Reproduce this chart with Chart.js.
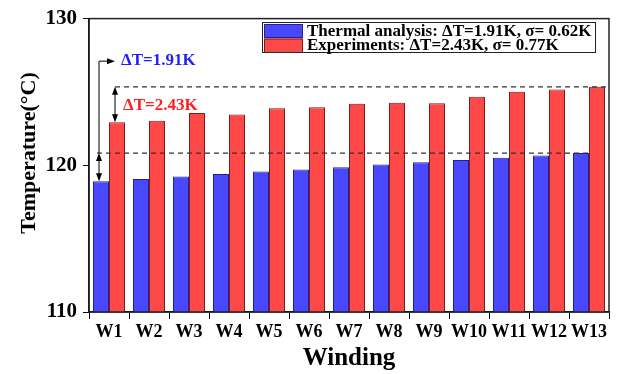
<!DOCTYPE html>
<html>
<head>
<meta charset="utf-8">
<script src="https://cdn.jsdelivr.net/npm/chart.js@4.4.0/dist/chart.umd.min.js"></script>
<style>
    html, body { margin: 0; padding: 0; background: #fff; }
</style>
</head>
<body>
<canvas id="graficoDevanados" width="633" height="374"></canvas>
<script>
// datos
const devanados = ['W1', 'W2', 'W3', 'W4', 'W5', 'W6', 'W7', 'W8', 'W9', 'W10', 'W11', 'W12', 'W13']
const analisisTermico = [118.92, 119.06, 119.24, 119.40, 119.58, 119.71, 119.87, 120.05, 120.20, 120.36, 120.52, 120.67, 120.83]
const experimentos = [122.93, 123.04, 123.56, 123.47, 123.89, 123.96, 124.20, 124.27, 124.23, 124.68, 125.01, 125.17, 125.35]
const ticksY = [110, 120, 130]
const etiquetas = ['Thermal analysis: \u0394T=1.91K, \u03c3= 0.62K', 'Experiments: \u0394T=2.43K, \u03c3= 0.77K']
const textosDelta = ['\u0394T=1.91K', '\u0394T=2.43K']
const tituloY = 'Temperature(\u00b0C)'

const fuente = "'Liberation Serif', 'Times New Roman', serif"

function flecha(ctx, x, y, dir) {
    // dir: 'up', 'down', 'right'
    ctx.beginPath()
    if (dir == 'up') { ctx.moveTo(x, y); ctx.lineTo(x - 3, y + 8); ctx.lineTo(x + 3, y + 8) }
    if (dir == 'down') { ctx.moveTo(x, y); ctx.lineTo(x - 3, y - 8); ctx.lineTo(x + 3, y - 8) }
    if (dir == 'right') { ctx.moveTo(x, y); ctx.lineTo(x - 8, y - 3); ctx.lineTo(x - 8, y + 3) }
    ctx.closePath()
    ctx.fill()
}

const anotaciones = {
    id: 'anotaciones',
    afterDatasetsDraw(chart) {
        const { ctx, chartArea: area, scales: { x, y } } = chart
        const maxT = Math.max(...analisisTermico)
        const maxE = Math.max(...experimentos)
        const x0 = x.getPixelForValue(0)
        const xAzul = x0 - 10
        const xRojo = x0 + 6
        const yMaxT = y.getPixelForValue(maxT)
        const yMaxE = y.getPixelForValue(maxE)
        const yT1 = y.getPixelForValue(analisisTermico[0])
        const yE1 = y.getPixelForValue(experimentos[0])

        ctx.save()
        // lineas discontinuas
        ctx.strokeStyle = '#333'
        ctx.lineWidth = 1.2
        ctx.setLineDash([5, 4])
        ctx.beginPath()
        ctx.moveTo(xRojo, yMaxE); ctx.lineTo(area.right, yMaxE)
        ctx.moveTo(xAzul - 2, yMaxT); ctx.lineTo(x.getPixelForValue(12), yMaxT)
        ctx.stroke()
        ctx.setLineDash([])

        // flechas dobles
        ctx.strokeStyle = '#000'
        ctx.fillStyle = '#000'
        ctx.lineWidth = 1
        ctx.beginPath()
        ctx.moveTo(xRojo, yMaxE + 2); ctx.lineTo(xRojo, yE1 - 2)
        ctx.moveTo(xAzul, yMaxT + 2); ctx.lineTo(xAzul, yT1 - 2)
        ctx.stroke()
        flecha(ctx, xRojo, yMaxE, 'up')
        flecha(ctx, xRojo, yE1, 'down')
        flecha(ctx, xAzul, yMaxT, 'up')
        flecha(ctx, xAzul, yT1, 'down')

        // codo hacia la etiqueta azul
        const yCodo = y.getPixelForValue(127.1)
        ctx.beginPath()
        ctx.moveTo(xAzul, yMaxT); ctx.lineTo(xAzul, yCodo); ctx.lineTo(xAzul + 10, yCodo)
        ctx.stroke()
        flecha(ctx, xAzul + 16, yCodo, 'right')

        ctx.font = `bold 17px ${fuente}`
        ctx.textAlign = 'left'
        ctx.textBaseline = 'middle'
        ctx.fillStyle = '#1f1fff'
        ctx.fillText(textosDelta[0], xAzul + 22, yCodo - 1)
        ctx.fillStyle = '#ff1f1f'
        ctx.fillText(textosDelta[1], xRojo + 8, (yMaxE + yE1) / 2 + 1)

        // marco superior y derecho
        ctx.strokeStyle = '#222'
        ctx.lineWidth = 1.5
        ctx.strokeRect(area.left, area.top, area.right - area.left, area.bottom - area.top)

        // leyenda
        const lx = 262, ly = 22, lw = 333, lh = 30
        ctx.fillStyle = '#fff'
        ctx.fillRect(lx, ly, lw, lh)
        ctx.lineWidth = 1
        ctx.strokeRect(lx + 0.5, ly + 0.5, lw, lh)
        chart.data.datasets.forEach((ds, i) => {
            const fy = ly + 2 + i * 14.5
            ctx.fillStyle = ds.backgroundColor
            ctx.fillRect(lx + 2, fy, 38, 13)
            ctx.strokeStyle = ds.borderColor
            ctx.strokeRect(lx + 2.5, fy + 0.5, 38, 13)
            ctx.fillStyle = '#000'
            ctx.fillText(ds.label, lx + 45, fy + 7.5)
        })

        // titulo del eje y (algo por encima del centro, como en el original)
        ctx.translate(29, 153)
        ctx.rotate(-Math.PI / 2)
        ctx.textAlign = 'center'
        ctx.font = `bold 22px ${fuente}`
        ctx.fillText(tituloY, 0, 0)
        ctx.restore()
    }
}

let graficoDevanados = new Chart(document.getElementById('graficoDevanados'), {
    type: 'bar',
    data: {
        labels: devanados,
        datasets: [
            {
                label: etiquetas[0],
                data: analisisTermico,
                backgroundColor: '#4848ff',
                borderColor: '#22228a',
                borderWidth: 1,
                categoryPercentage: 0.8,
                barPercentage: 1.0
            },
            {
                label: etiquetas[1],
                data: experimentos,
                backgroundColor: '#ff4848',
                borderColor: '#7a1c1c',
                borderWidth: 1,
                categoryPercentage: 0.8,
                barPercentage: 1.0
            }
        ]
    },
    options: {
        responsive: false,
        animation: false,
        layout: { padding: { top: 14, right: 24, left: 0, bottom: 0 } },
        plugins: {
            legend: { display: false },
            tooltip: { enabled: false }
        },
        scales: {
            x: {
                afterFit: (s) => { s.height = 62 },
                grid: { display: true, drawOnChartArea: false, drawTicks: true, tickLength: 7, color: '#000' },
                border: { display: true, color: '#000', width: 1.5 },
                ticks: { color: '#000', padding: 3, maxRotation: 0, minRotation: 0, autoSkip: false, font: { family: fuente, size: 18, weight: 'bold' } },
                title: { display: true, text: 'Winding', color: '#000', padding: { top: 0, bottom: 0 }, font: { family: fuente, size: 25, weight: 'bold' } }
            },
            y: {
                min: ticksY[0],
                max: ticksY[ticksY.length - 1],
                afterFit: (s) => { s.width = 89 },
                afterBuildTicks: (s) => { s.ticks = ticksY.map(v => ({ value: v })) },
                grid: { display: true, drawOnChartArea: false, drawTicks: true, tickLength: 6, color: '#000' },
                border: { display: true, color: '#000', width: 1.5 },
                ticks: { color: '#000', padding: 6, font: { family: fuente, size: 21, weight: 'bold' } },
                title: { display: false }
            }
        }
    },
    plugins: [anotaciones]
})
</script>
</body>
</html>
